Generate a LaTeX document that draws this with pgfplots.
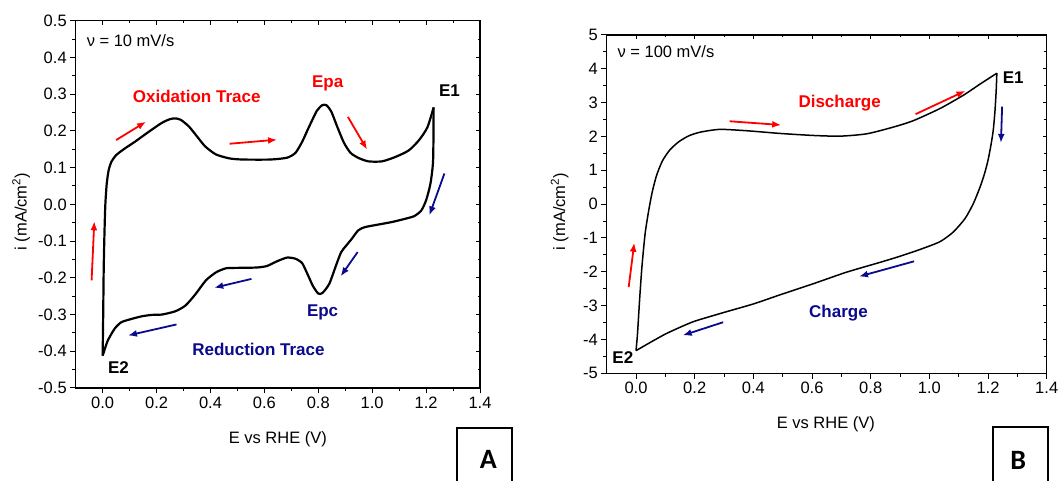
\documentclass[border=0pt]{standalone}
\usepackage{fontspec}
\setmainfont{Liberation Sans}
\newfontfamily\carlito{Carlito}
\usepackage{pgfplots}
\pgfplotsset{compat=1.18}
\usetikzlibrary{arrows.meta}
\definecolor{ared}{RGB}{255,0,0}
\definecolor{anavy}{RGB}{10,10,140}

\tikzset{
 ann/.style={font=\bfseries\fontsize{17bp}{20bp}\selectfont},
 arr/.style={line width=1.8bp, -{Latex[length=9bp,width=7bp]}},
}
\pgfplotsset{
 cvaxis/.style={
  scale only axis, clip=false,
  axis line style={line width=1.1bp},
  tick align=outside, xtick pos=bottom, ytick pos=left,
  major tick length=5.5bp, minor tick length=3.5bp,
  every tick/.style={line width=1bp, black},
  tick label style={font=\fontsize{16.5bp}{19bp}\selectfont},
  label style={font=\fontsize{16.5bp}{19bp}\selectfont},
  /pgf/number format/assume math mode=true,
  xmin=-0.1, xmax=1.4,
  xtick={0,0.2,0.4,0.6,0.8,1.0,1.2,1.4},
  minor x tick num=1,
  x tick label style={/pgf/number format/fixed, /pgf/number format/fixed zerofill, /pgf/number format/precision=1},
  xlabel={E vs RHE (V)},
  ylabel={i (mA/cm\textsuperscript{2})},
 },
 mirror/.style={
  scale only axis,
  axis line style={draw=none},
  tick align=inside, xtick pos=top, ytick pos=right,
  major tick length=4bp, minor tick length=2.5bp,
  every tick/.style={line width=0.9bp, black},
  xticklabels={}, yticklabels={},
  xmin=-0.1, xmax=1.4,
  xtick={0,0.2,0.4,0.6,0.8,1.0,1.2,1.4},
  minor x tick num=1,
 },
}

\begin{document}
\begin{tikzpicture}
\useasboundingbox (0bp,0bp) rectangle (1059bp,481bp);

% ---------------- Panel A ----------------
\begin{axis}[cvaxis,
  at={(75.7bp,93bp)}, anchor=south west,
  width=404.3bp, height=367.3bp,
  ymin=-0.5, ymax=0.5,
  ytick={-0.5,-0.4,-0.3,-0.2,-0.1,0,0.1,0.2,0.3,0.4,0.5},
  minor y tick num=1,
  y tick label style={/pgf/number format/fixed, /pgf/number format/fixed zerofill, /pgf/number format/precision=1},
  ylabel style={at={(axis description cs:-0.135,0.48)}, anchor=center},
  xlabel style={at={(axis description cs:0.5,-0.139)}, anchor=center},
]
% oxidation trace (E2 -> E1)
\addplot[black, line width=2.2bp, smooth, tension=0.4, line join=round] coordinates {
(0.000,-0.412) (0.002,-0.30) (0.004,-0.17) (0.007,-0.07) (0.010,0.000)
(0.015,0.055) (0.022,0.092) (0.032,0.115) (0.050,0.134) (0.082,0.152)
(0.119,0.170) (0.170,0.197) (0.220,0.222) (0.250,0.232) (0.270,0.234)
(0.290,0.230) (0.320,0.212) (0.350,0.185) (0.380,0.158) (0.420,0.136)
(0.471,0.125) (0.521,0.122) (0.622,0.122) (0.684,0.127) (0.715,0.140)
(0.740,0.170) (0.765,0.210) (0.795,0.255) (0.815,0.270) (0.830,0.270)
(0.848,0.253) (0.870,0.212) (0.895,0.168) (0.920,0.140) (0.950,0.126)
(0.986,0.117) (1.036,0.117) (1.086,0.129) (1.136,0.147) (1.174,0.175)
(1.205,0.210) (1.228,0.264)
};
% reduction trace (E1 -> E2)
\addplot[black, line width=2.2bp, smooth, tension=0.4, line join=round] coordinates {
(1.228,0.264) (1.226,0.120) (1.216,0.056) (1.200,0.011) (1.182,-0.017)
(1.156,-0.032) (1.124,-0.039) (1.074,-0.048) (1.023,-0.055) (0.973,-0.062)
(0.948,-0.071) (0.923,-0.095) (0.904,-0.112) (0.885,-0.130) (0.866,-0.166)
(0.841,-0.216) (0.816,-0.241) (0.800,-0.243) (0.780,-0.222) (0.760,-0.190)
(0.740,-0.160) (0.715,-0.148) (0.684,-0.145) (0.647,-0.155) (0.609,-0.168)
(0.571,-0.172) (0.496,-0.173) (0.458,-0.174) (0.421,-0.185) (0.383,-0.207)
(0.345,-0.244) (0.308,-0.275) (0.270,-0.291) (0.220,-0.300) (0.182,-0.301)
(0.144,-0.305) (0.107,-0.312) (0.069,-0.321) (0.044,-0.339) (0.019,-0.371)
(0.004,-0.403) (0.000,-0.412)
};
\node[anchor=west, font=\fontsize{16.5bp}{19bp}\selectfont] at (axis cs:-0.072,0.446) {ν = 10 mV/s};
\node[ann, ared] at (axis cs:0.349,0.295) {Oxidation Trace};
\node[ann, ared] at (axis cs:0.835,0.329) {Epa};
\node[ann] at (axis cs:1.287,0.309) {E1};
\node[ann] at (axis cs:0.059,-0.444) {E2};
\node[ann, anavy] at (axis cs:0.816,-0.294) {Epc};
\node[ann, anavy] at (axis cs:0.578,-0.394) {Reduction Trace};
\draw[arr, ared] (axis cs:0.050,0.175) -- (axis cs:0.161,0.225);
\draw[arr, ared] (axis cs:0.471,0.165) -- (axis cs:0.647,0.176);
\draw[arr, ared] (axis cs:0.910,0.238) -- (axis cs:0.981,0.149);
\draw[arr, ared] (axis cs:-0.041,-0.207) -- (axis cs:-0.031,-0.046);
\draw[arr, anavy] (axis cs:1.268,0.084) -- (axis cs:1.212,-0.030);
\draw[arr, anavy] (axis cs:0.946,-0.130) -- (axis cs:0.883,-0.196);
\draw[arr, anavy] (axis cs:0.552,-0.203) -- (axis cs:0.414,-0.227);
\draw[arr, anavy] (axis cs:0.274,-0.327) -- (axis cs:0.094,-0.357);
\end{axis}
\begin{axis}[mirror,
  at={(75.7bp,93bp)}, anchor=south west,
  width=404.3bp, height=367.3bp,
  ymin=-0.5, ymax=0.5,
  ytick={-0.5,-0.4,-0.3,-0.2,-0.1,0,0.1,0.2,0.3,0.4,0.5},
  minor y tick num=1,
]
\addplot[draw=none] coordinates {(0,0)};
\end{axis}

% ---------------- Panel B ----------------
\begin{axis}[cvaxis,
  at={(606.7bp,107.7bp)}, anchor=south west,
  width=440bp, height=338.3bp,
  ymin=-5, ymax=5,
  ytick={-5,-4,-3,-2,-1,0,1,2,3,4,5},
  minor y tick num=1,
  ylabel style={at={(axis description cs:-0.107,0.478)}, anchor=center},
  xlabel style={at={(axis description cs:0.498,-0.150)}, anchor=center},
]
% discharge branch (E2 -> E1)
\addplot[black, line width=1.5bp, smooth, tension=0.4, line join=round] coordinates {
(0.000,-4.33) (0.005,-3.83) (0.012,-2.85) (0.020,-1.86) (0.031,-0.87)
(0.043,-0.20) (0.055,0.35) (0.070,0.85) (0.090,1.28) (0.115,1.60)
(0.145,1.84) (0.180,2.02) (0.220,2.13) (0.286,2.21) (0.377,2.17)
(0.491,2.09) (0.605,2.03) (0.696,2.01) (0.787,2.08) (0.878,2.28)
(0.946,2.47) (1.037,2.83) (1.116,3.22) (1.173,3.55) (1.230,3.87)
};
% charge branch (E1 -> E2)
\addplot[black, line width=1.5bp, smooth, tension=0.4, line join=round] coordinates {
(1.230,3.87) (1.228,3.40) (1.224,2.80) (1.218,2.20) (1.210,1.75)
(1.200,1.30) (1.188,0.90) (1.173,0.51) (1.150,0.02) (1.122,-0.42)
(1.082,-0.82) (1.036,-1.11) (0.968,-1.34) (0.900,-1.54) (0.832,-1.72)
(0.718,-2.01) (0.605,-2.35) (0.491,-2.68) (0.400,-2.95) (0.300,-3.20)
(0.200,-3.46) (0.150,-3.64) (0.100,-3.84) (0.050,-4.08) (0.000,-4.33)
};
\node[anchor=west, font=\fontsize{16.5bp}{19bp}\selectfont] at (axis cs:-0.075,4.51) {ν = 100 mV/s};
\node[ann, ared] at (axis cs:0.694,2.98) {Discharge};
\node[ann] at (axis cs:1.286,3.74) {E1};
\node[ann] at (axis cs:-0.045,-4.53) {E2};
\node[ann, anavy] at (axis cs:0.690,-3.22) {Charge};
\draw[arr, ared] (axis cs:0.319,2.45) -- (axis cs:0.495,2.34);
\draw[arr, ared] (axis cs:0.953,2.66) -- (axis cs:1.123,3.35);
\draw[arr, ared] (axis cs:-0.025,-2.45) -- (axis cs:-0.006,-1.14);
\draw[arr, anavy] (axis cs:1.248,2.88) -- (axis cs:1.244,1.81);
\draw[arr, anavy] (axis cs:0.948,-1.69) -- (axis cs:0.760,-2.14);
\draw[arr, anavy] (axis cs:0.297,-3.49) -- (axis cs:0.159,-3.88);
\end{axis}
\begin{axis}[mirror,
  at={(606.7bp,107.7bp)}, anchor=south west,
  width=440bp, height=338.3bp,
  ymin=-5, ymax=5,
  ytick={-5,-4,-3,-2,-1,0,1,2,3,4,5},
  minor y tick num=1,
]
\addplot[draw=none] coordinates {(0,0)};
\end{axis}

% ---------------- Panel letters ----------------
\draw[line width=2bp] (456.7bp,-10bp) rectangle (512.3bp,53.3bp);
\node[font=\carlito\bfseries\fontsize{28bp}{32bp}\selectfont] at (488.3bp,21.7bp) {A};
\draw[line width=2bp] (992.7bp,-10bp) rectangle (1047.7bp,53.7bp);
\node[font=\carlito\bfseries\fontsize{28bp}{32bp}\selectfont] at (1018.3bp,20.3bp) {B};
\end{tikzpicture}
\end{document}
